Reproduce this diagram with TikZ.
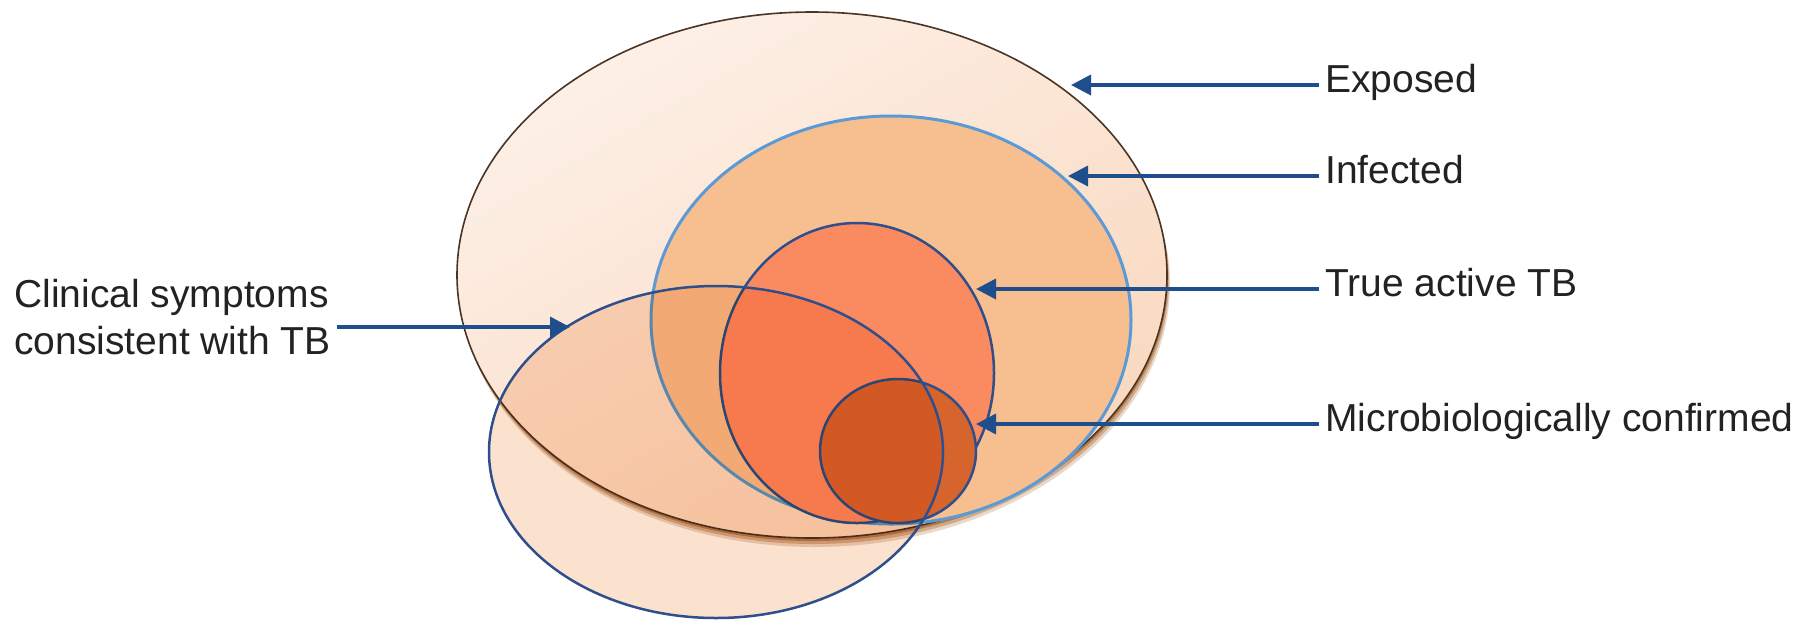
\documentclass[tikz,border=0pt]{standalone}
\usepackage{fontspec}
\setmainfont{Liberation Sans}
\usetikzlibrary{shapes.geometric,arrows.meta}
\definecolor{expA}{HTML}{FDF0E7}
\definecolor{expB}{HTML}{F9D8BE}
\definecolor{expline}{HTML}{4A3525}
\definecolor{shadowc}{HTML}{A8662E}
\definecolor{infc}{HTML}{F7BF90}
\definecolor{infline}{HTML}{5A9AD6}
\definecolor{truec}{HTML}{FA8A5F}
\definecolor{microc}{HTML}{D6642D}
\definecolor{navy}{HTML}{2E4F8C}
\definecolor{clinc}{HTML}{FBE2CF}
\definecolor{arrc}{HTML}{1F4E8C}
\definecolor{textc}{HTML}{222222}
\begin{document}
\begin{tikzpicture}[x=0.5pt,y=-0.5pt,
  oval/.style={ellipse,inner sep=0pt,outer sep=0pt},
  expsize/.style={oval,minimum width=355pt,minimum height=263pt},
  clinsize/.style={oval,minimum width=227pt,minimum height=166pt},
  shadowlayer/.style={expsize,fill=shadowc,fill opacity=#1},
  lbl/.style={font=\fontsize{19.5pt}{23.5pt}\selectfont,text=textc,inner xsep=3pt,inner ysep=0pt},
  arr/.style={draw=arrc,line width=1.8pt,-{Triangle[length=10pt,width=10pt]}}]
\useasboundingbox (0,0) rectangle (1815,623);
% Exposed (with soft shadow)
\node[shadowlayer=0.25] (shadow3) at (815,284) {};
\node[shadowlayer=0.4] (shadow2) at (814,281) {};
\node[shadowlayer=0.7] (shadow1) at (813,278) {};
\node[expsize,top color=expA,bottom color=expB,shading angle=30,draw=expline,line width=0.8pt] (exposed) at (812,275) {};
% Infected
\node[oval,minimum width=240pt,minimum height=204pt,fill=infc,draw=infline,line width=1.5pt] (infected) at (891,320) {};
% True active TB
\node[oval,minimum width=137pt,minimum height=150pt,fill=truec,draw=navy,line width=1.25pt] (trueTB) at (857,373) {};
% Microbiologically confirmed
\node[oval,minimum width=78pt,minimum height=72pt,fill=microc,draw=navy,line width=1.25pt] (micro) at (898,451) {};
% Clinical symptoms consistent with TB (multiplied over the others)
\begin{scope}[blend mode=multiply]
\node[clinsize,fill=clinc] (clinfill) at (716,452) {};
\end{scope}
\node[clinsize,draw=navy,line width=1.25pt] (clin) at (716,452) {};
% arrow tips
\coordinate (texp) at (1071,85);
\coordinate (tinf) at (1068,176);
\coordinate (ttrue) at (976,289);
\coordinate (tmic) at (976,424);
\coordinate (tclin) at (570,327);
% labels
\node[lbl,anchor=base west] (lexp) at (1319,92) {Exposed};
\node[lbl,anchor=base west] (linf) at (1319,183) {Infected};
\node[lbl,anchor=base west] (ltrue) at (1319,296) {True active TB};
\node[lbl,anchor=base west] (lmic) at (1319,431) {Microbiologically confirmed};
\node[lbl,anchor=north west,align=left] (lclin) at (8,279) {Clinical symptoms\\consistent with TB};
% arrows
\draw[arr] (lexp.west |- texp) -- (texp);
\draw[arr] (linf.west |- tinf) -- (tinf);
\draw[arr] (ltrue.west |- ttrue) -- (ttrue);
\draw[arr] (lmic.west |- tmic) -- (tmic);
\draw[arr] (lclin.east |- tclin) -- (tclin);
\end{tikzpicture}
\end{document}
